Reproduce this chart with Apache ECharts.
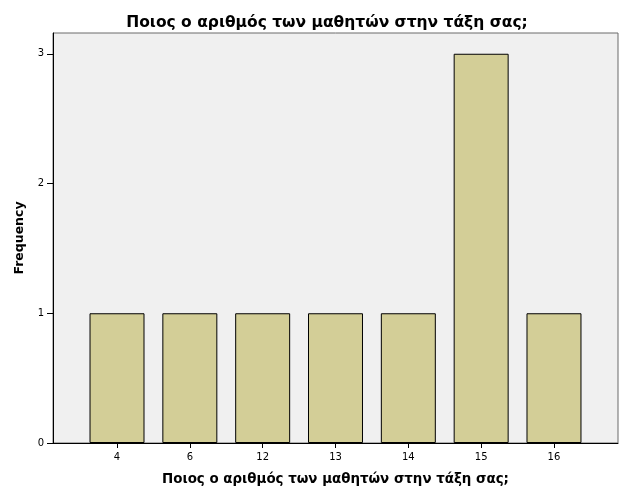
<!DOCTYPE html>
<html><head><meta charset="utf-8">
<script src="https://cdn.jsdelivr.net/npm/echarts@6/dist/echarts.min.js"></script>
<style>html,body{margin:0;padding:0;background:#fff}#c{width:626px;height:501px}</style>
</head><body><div id="c"></div>
<script>
const titleText = 'Ποιος ο αριθμός των μαθητών στην τάξη σας;';
const categories = ['4', '6', '12', '13', '14', '15', '16'];
const frequency = [1, 1, 1, 1, 1, 3, 1];
const yTicks = [0, 1, 2, 3];
const yMax = 3.16;

const chart = echarts.init(document.getElementById('c'), null, {renderer: 'canvas'});
const font = 'DejaVu Sans';
chart.setOption({
  animation: false,
  backgroundColor: '#fff',
  title: {
    text: titleText, left: 322, top: 10, textAlign: 'center',
    textStyle: {fontFamily: font, fontWeight: 'bold', fontSize: 15.5, color: '#000'}
  },
  grid: [
    {left: 53, right: 8, top: 33, bottom: 58, show: true, backgroundColor: '#f0f0f0', borderColor: '#6b6b6b', borderWidth: 1},
    {left: 80.6, right: 35.6, top: 33, bottom: 58}
  ],
  xAxis: [
    {gridIndex: 0, type: 'value', min: 0, max: 1,
     axisLine: {show: true, onZero: false, lineStyle: {color: '#000', width: 1}},
     axisTick: {show: false}, axisLabel: {show: false}, splitLine: {show: false},
     name: titleText, nameLocation: 'middle', nameGap: 30,
     nameTextStyle: {fontFamily: font, fontWeight: 'bold', fontSize: 13.4, color: '#000'}},
    {gridIndex: 1, type: 'category', data: categories, boundaryGap: true,
     axisLine: {show: false},
     axisTick: {show: true, alignWithLabel: true, length: 5, lineStyle: {color: '#000'}},
     axisLabel: {fontFamily: font, fontSize: 10, color: '#000', margin: 9}}
  ],
  yAxis: [
    {gridIndex: 0, type: 'value', min: 0, max: yMax, interval: 1,
     axisLine: {show: true, lineStyle: {color: '#000', width: 1}},
     axisTick: {show: true, length: 6, customValues: yTicks, lineStyle: {color: '#000'}},
     axisLabel: {customValues: yTicks, fontFamily: font, fontSize: 10, color: '#000', margin: 9},
     splitLine: {show: false},
     name: 'Frequency', nameLocation: 'middle', nameGap: 23, nameRotate: 90,
     nameTextStyle: {fontFamily: font, fontWeight: 'bold', fontSize: 12.5, color: '#000'}},
    {gridIndex: 1, type: 'value', min: 0, max: yMax, show: false}
  ],
  series: [{
    type: 'bar', xAxisIndex: 1, yAxisIndex: 1, data: frequency,
    barWidth: '75.5%',
    itemStyle: {color: '#d3ce97', borderColor: '#000', borderWidth: 1}
  }]
});
</script></body></html>
